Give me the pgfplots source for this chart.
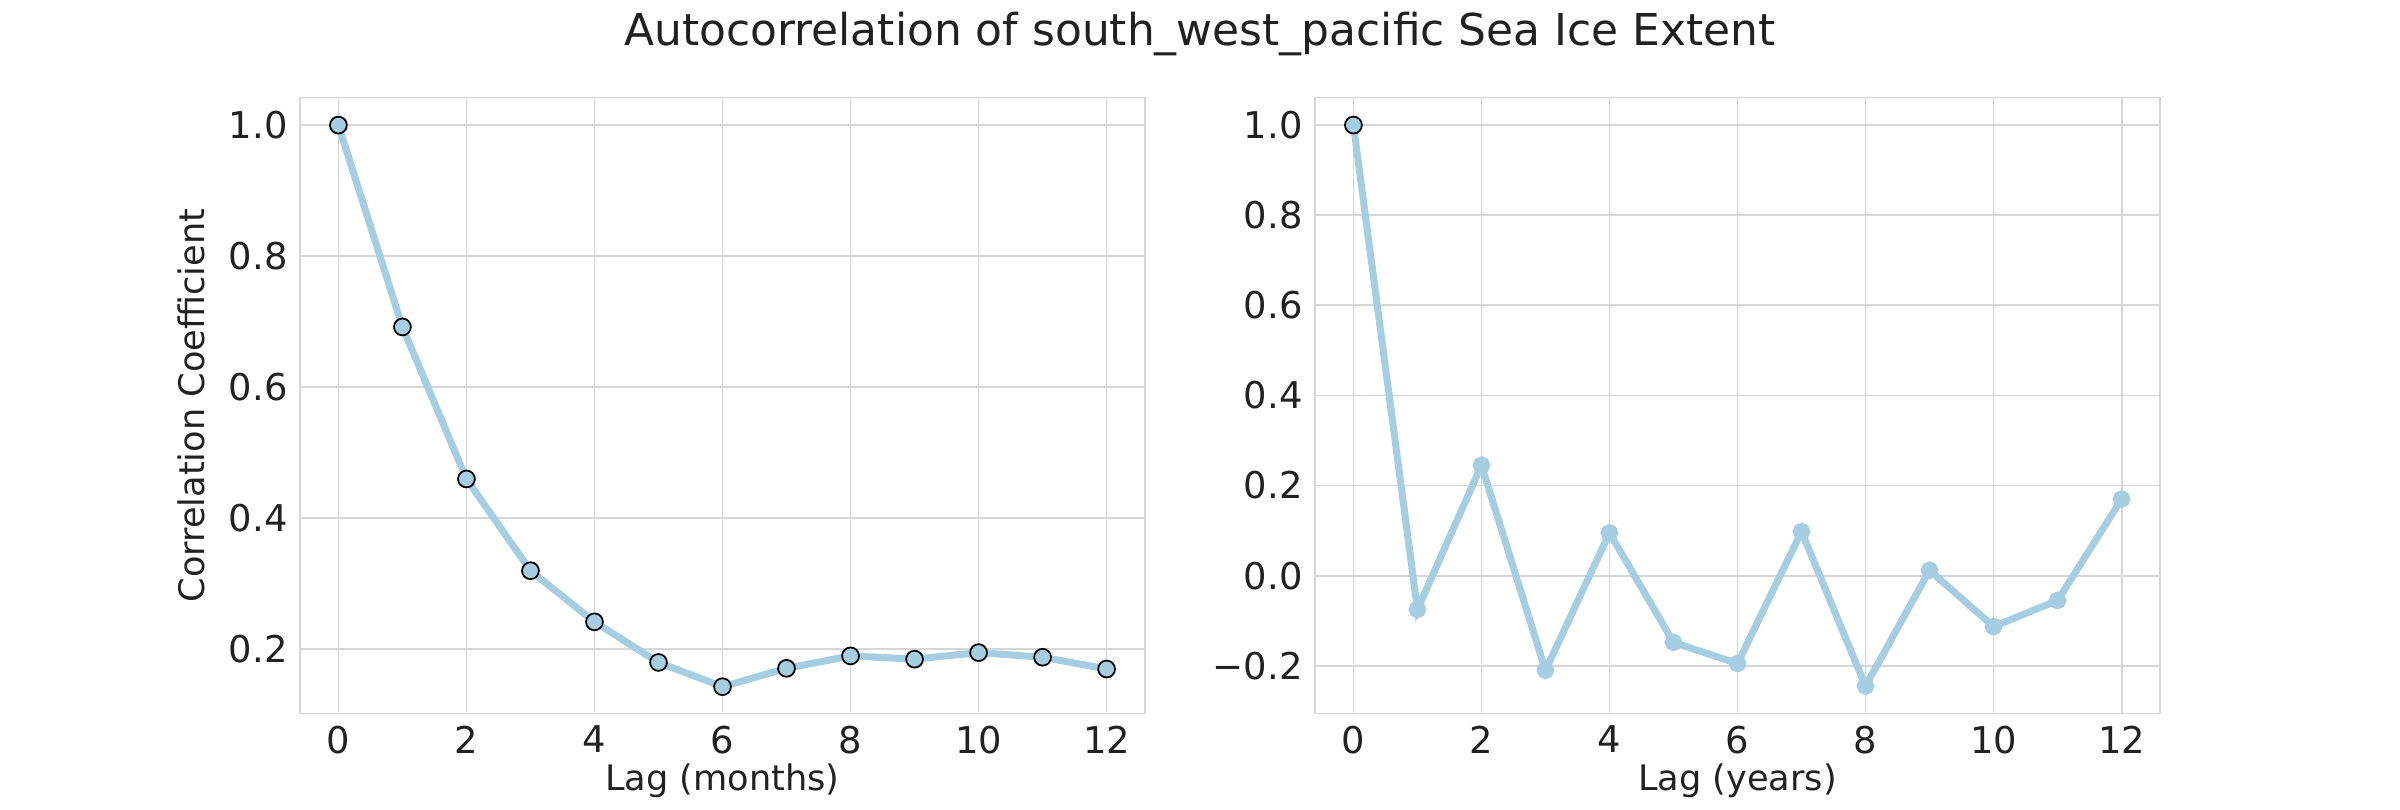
\documentclass[border=0pt]{standalone}
\usepackage{pgfplots}
\pgfplotsset{compat=1.18}
\usepackage{fontspec}
\setmainfont{DejaVu Sans}
\definecolor{lb}{HTML}{A6CEE3}
\definecolor{gr}{HTML}{D6D6D6}
\begin{document}
\begin{tikzpicture}
\path (0,0) rectangle (24,8);
\node[font=\fontsize{12.5}{15}\selectfont,text=black!87] at (12,7.68) {Autocorrelation of south\_west\_pacific Sea Ice Extent};
\pgfplotsset{every axis/.style={scale only axis, anchor=south west, width=8.45cm, height=6.16cm,
 axis line style={gr}, grid=major, major grid style={gr, line width=0.5pt}, tick style={draw=none},
 ticklabel style={font=\fontsize{10.5}{12}\selectfont, text=black!87}, label style={font=\fontsize{10}{12}\selectfont, text=black!87},
 /pgf/number format/assume math mode=true, xmin=-0.6, xmax=12.6, xtick={0,2,...,12},
 yticklabel style={/pgf/number format/fixed,/pgf/number format/fixed zerofill,/pgf/number format/precision=1}}}
\begin{axis}[at={(3.0cm,0.88cm)}, ymin=0.102, ymax=1.042, ytick={0.2,0.4,...,1.0},
 xlabel={Lag (months)}, ylabel={Correlation Coefficient}, xlabel style={yshift=4pt}]
\addplot[lb, line width=2pt, mark=*, mark size=2.4pt, mark options={fill=lb, draw=black, line width=0.5pt}] coordinates {
(0,1.0)(1,0.692)(2,0.46)(3,0.32)(4,0.242)(5,0.18)(6,0.143)(7,0.171)(8,0.19)(9,0.185)(10,0.195)(11,0.188)(12,0.17)};
\end{axis}
\begin{axis}[at={(13.15cm,0.88cm)}, ymin=-0.306, ymax=1.061, ytick={-0.2,0,0.2,0.4,0.6,0.8,1.0},
 yticklabels={−0.2,0.0,0.2,0.4,0.6,0.8,1.0},
 xlabel={Lag (years)}, xlabel style={yshift=4pt}]
\addplot[lb, line width=2pt, mark=*, mark size=1.5pt, mark options={fill=lb, draw=lb}] coordinates {
(0,1.0)(1,-0.075)(2,0.245)(3,-0.21)(4,0.095)(5,-0.148)(6,-0.195)(7,0.098)(8,-0.245)(9,0.012)(10,-0.113)(11,-0.055)(12,0.17)};
\addplot[only marks, mark=*, mark size=2.4pt, mark options={fill=lb, draw=black, line width=0.5pt}] coordinates {(0,1.0)};
\end{axis}
\end{tikzpicture}
\end{document}
